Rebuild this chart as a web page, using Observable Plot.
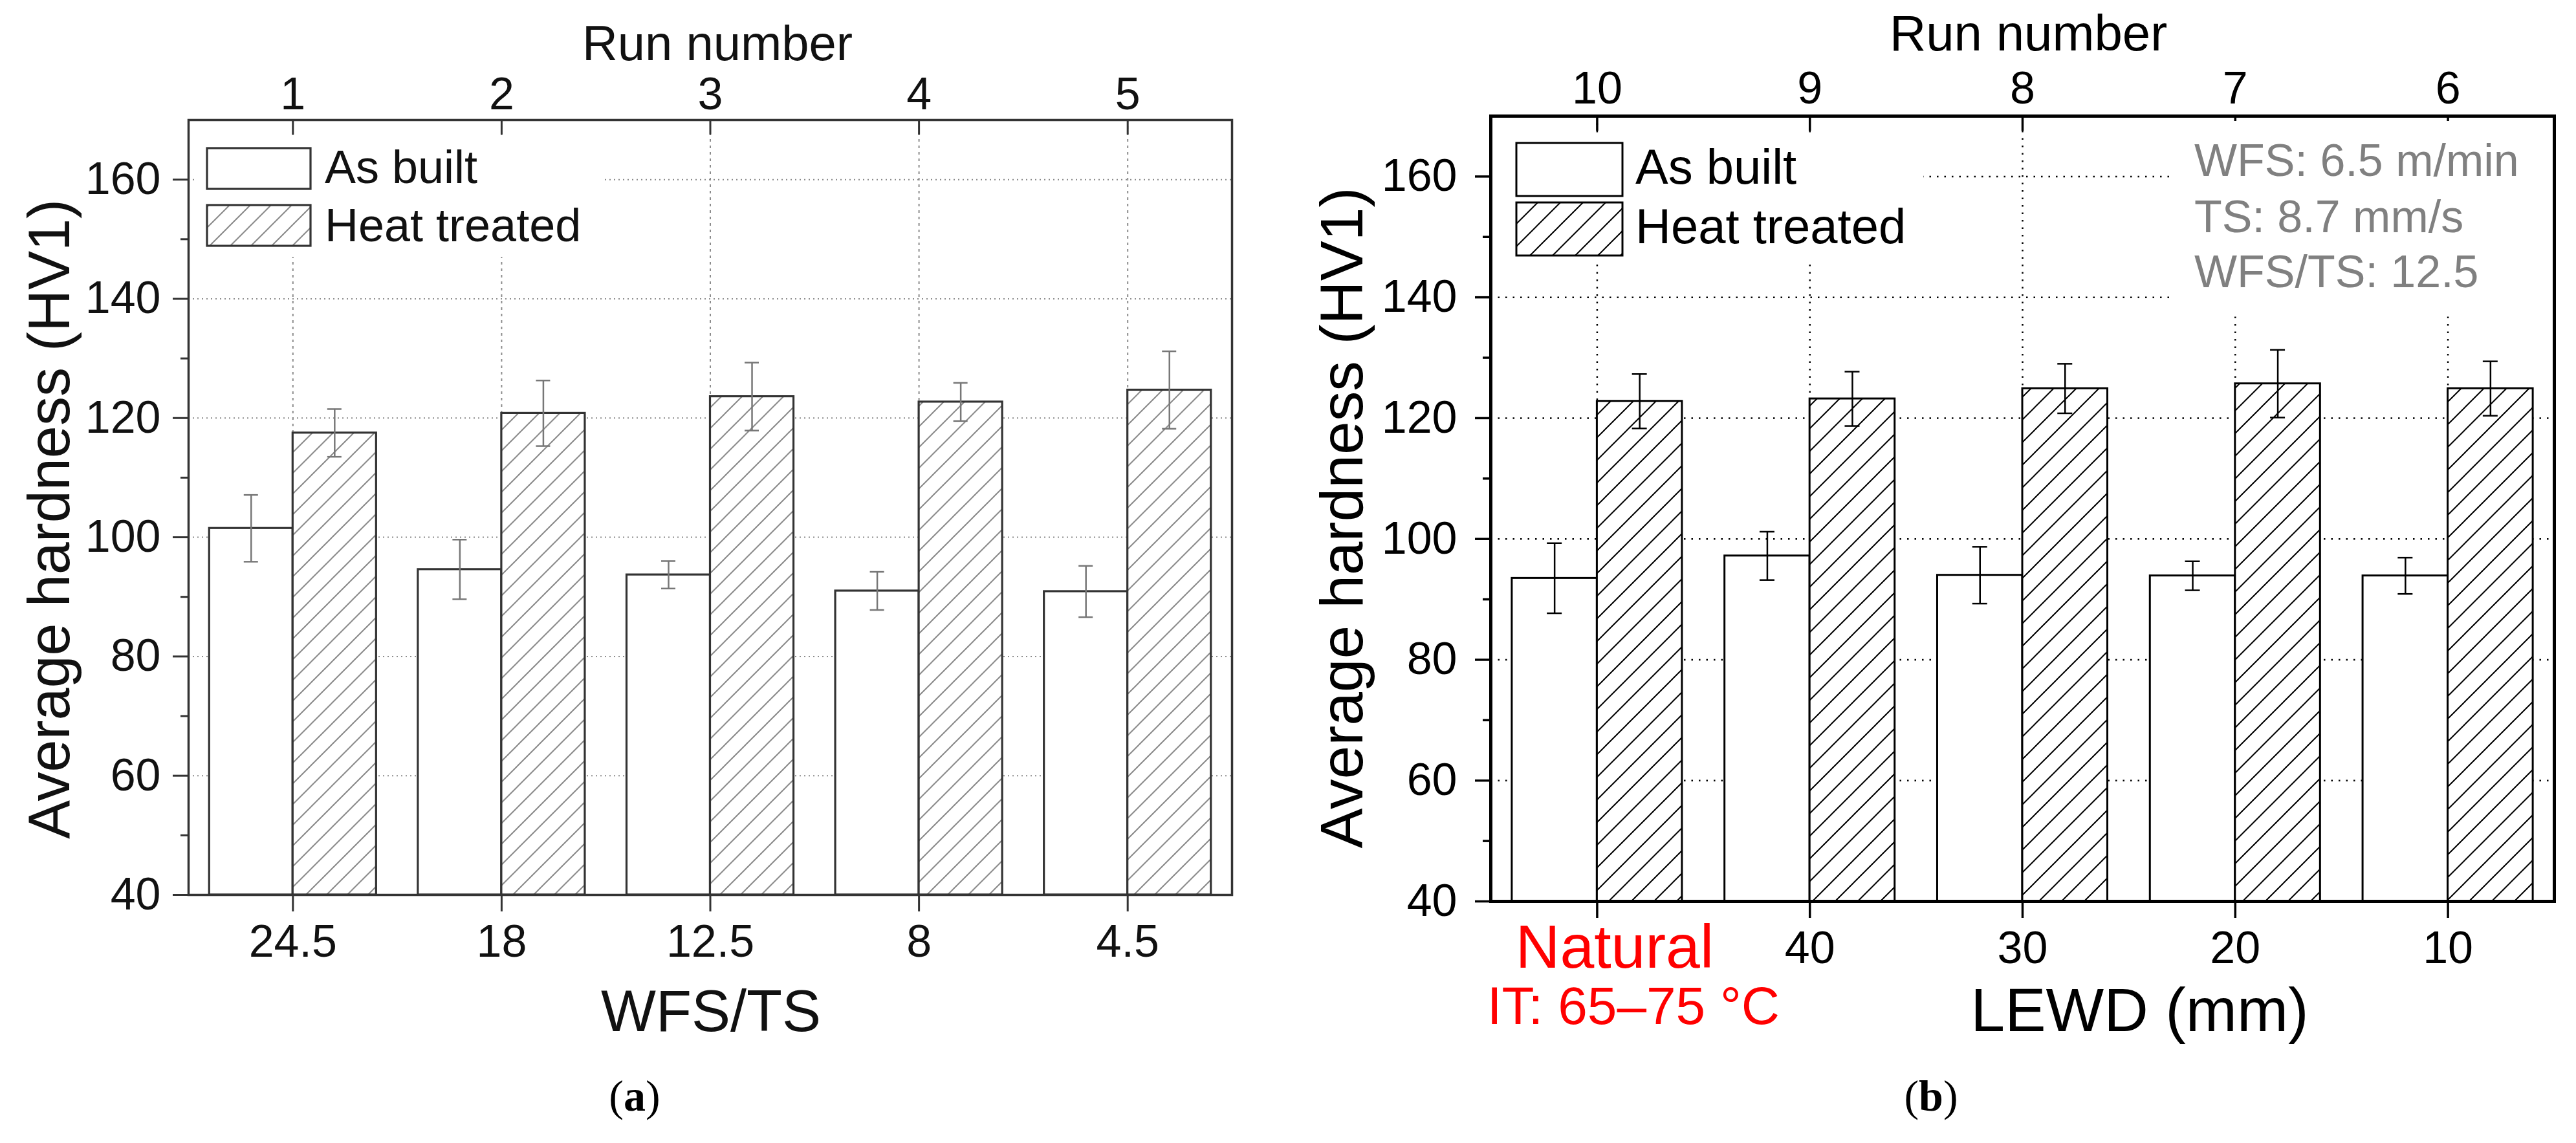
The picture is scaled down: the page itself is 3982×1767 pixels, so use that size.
<!DOCTYPE html>
<html><head><meta charset="utf-8">
<script src="https://cdn.jsdelivr.net/npm/d3@7"></script>
<script src="https://cdn.jsdelivr.net/npm/@observablehq/plot@0.6"></script>
<style>
body{margin:0;background:#fff;}
#fig{position:relative;width:3982px;height:1767px;overflow:hidden;background:#fff;font-family:"Liberation Sans",Arial,sans-serif;}
.panel{position:absolute;top:0;}
.cap{position:absolute;top:1660px;font-family:"Liberation Serif","Times New Roman",serif;font-size:68px;line-height:68px;transform:translateX(-50%);color:#000;}
</style></head><body>
<div id="fig">
<div id="pa" class="panel" style="left:0px"></div>
<div id="pb" class="panel" style="left:1990px"></div>
<div class="cap" style="left:981px">(<b>a</b>)</div>
<div class="cap" style="left:2985px">(<b>b</b>)</div>
</div>
<script>
// ---------- data ----------
const seriesNames = ["As built", "Heat treated"];
const yTitle = "Average hardness (HV1)";
const topTitle = "Run number";

// panel (a)
const runA = ["1", "2", "3", "4", "5"];
const wfsTs = ["24.5", "18", "12.5", "8", "4.5"];
const asBuiltA = [101.5, 94.6, 93.7, 91.0, 90.9];
const asBuiltErrA = [5.6, 5.0, 2.3, 3.2, 4.3];
const heatA = [117.5, 120.8, 123.6, 122.7, 124.7];
const heatErrA = [4.0, 5.5, 5.7, 3.2, 6.5];
const xTitleA = "WFS/TS";

// panel (b)
const runB = ["10", "9", "8", "7", "6"];
const lewd = ["Natural", "40", "30", "20", "10"];
const asBuiltB = [93.5, 97.2, 94.0, 93.9, 93.9];
const asBuiltErrB = [5.8, 4.0, 4.7, 2.4, 3.0];
const heatB = [122.8, 123.2, 124.9, 125.7, 124.9];
const heatErrB = [4.5, 4.5, 4.1, 5.6, 4.5];
const xTitleB = "LEWD (mm)";
const naturalNote = "IT: 65–75 °C";
const paramNote = ["WFS: 6.5 m/min", "TS: 8.7 mm/s", "WFS/TS: 12.5"];

// axis ticks
const yDomain = [40, 170];
const majorTicks = [40, 60, 80, 100, 120, 140, 160];
const minorTicks = [50, 70, 90, 110, 130, 150];
const gridTicks = [60, 80, 100, 120, 140, 160];

const FONT = '"Liberation Sans", Arial, sans-serif';

function buildRows(ab, abErr, ht, htErr) {
  const out = [];
  ab.forEach((v, i) => out.push({i, s: seriesNames[0], v, e: abErr[i]}));
  ht.forEach((v, i) => out.push({i, s: seriesNames[1], v, e: htErr[i]}));
  return out;
}

function makePanel(o) {
  const rows = buildRows(o.ab, o.abErr, o.ht, o.htErr);
  const idx = d3.range(o.bottomLabels.length);
  const barW = 0.4;
  const plotW = o.width - o.ml - o.mr;
  const plotH = o.height - o.mt - o.mb;
  const capHalf = o.capPx / (plotW / idx.length);
  const isAB = d => d.s === seriesNames[0];
  const center = d => d.i + (isAB(d) ? -barW / 2 : barW / 2);
  const hatchId = o.id + "-hatch";

  const marks = [
    Plot.gridY(gridTicks, {stroke: o.gridColor, strokeOpacity: 1, strokeWidth: o.gridWidth, strokeDasharray: o.gridDashY}),
    Plot.gridX(idx, {x: d => d, stroke: o.gridColor, strokeOpacity: 1, strokeWidth: o.gridWidth, strokeDasharray: o.gridDashX}),
    Plot.rectY(rows.filter(isAB), {x1: d => d.i - barW, x2: d => d.i, y1: () => yDomain[0], y2: "v", fill: "white", stroke: o.barStroke, strokeWidth: o.barWidth}),
    Plot.rectY(rows.filter(d => !isAB(d)), {x1: d => d.i, x2: d => d.i + barW, y1: () => yDomain[0], y2: "v", fill: `url(#${hatchId})`, stroke: o.barStroke, strokeWidth: o.barWidth}),
    Plot.ruleX(rows, {x: center, y1: d => d.v - d.e, y2: d => d.v + d.e, stroke: o.errColor, strokeWidth: o.errWidth}),
    Plot.ruleY(rows, {y: d => d.v + d.e, x1: d => center(d) - capHalf, x2: d => center(d) + capHalf, stroke: o.errColor, strokeWidth: o.errWidth}),
    Plot.ruleY(rows, {y: d => d.v - d.e, x1: d => center(d) - capHalf, x2: d => center(d) + capHalf, stroke: o.errColor, strokeWidth: o.errWidth}),
    // inward top ticks
    Plot.tickX(idx, {x: d => d, stroke: o.frameColor, strokeWidth: o.tickWidth, insetBottom: plotH - 23}),
    Plot.frame({stroke: o.frameColor, strokeWidth: o.frameWidth}),
    Plot.axisY(majorTicks, {anchor: "left", tickSize: 24, tickPadding: o.yPad, fontSize: o.tickFont, label: null, stroke: o.frameColor, strokeWidth: o.tickWidth, fill: o.textColor}),
    Plot.axisY(minorTicks, {anchor: "left", tickSize: 12, tickFormat: () => "", label: null, stroke: o.frameColor, strokeWidth: o.tickWidth}),
    Plot.axisX(idx, {anchor: "bottom", tickSize: 26, tickPadding: 20, tickFormat: o.bottomFormat, fontSize: o.tickFont, label: null, stroke: o.frameColor, strokeWidth: o.tickWidth, fill: o.textColor}),
    Plot.axisX(idx, {anchor: "top", tickSize: 0, tickPadding: o.topPad, tickFormat: i => o.topLabels[i], fontSize: o.tickFont, label: null, fill: o.textColor}),
    Plot.text([topTitle], {text: d => d, frameAnchor: "top", dx: o.topTitleDx, dy: o.topTitleDy, lineAnchor: "bottom", fontSize: o.topTitleFont, fill: o.textColor}),
    Plot.text([o.xTitle], {text: d => d, frameAnchor: "bottom", dx: o.xTitleDx, dy: o.xTitleDy, lineAnchor: "bottom", fontSize: o.xTitleFont, fill: o.textColor}),
    Plot.text([yTitle], {text: d => d, frameAnchor: "left", rotate: -90, dx: o.yTitleDx, dy: o.yTitleDy, textAnchor: "middle", lineAnchor: "middle", fontSize: o.yTitleFont, fill: o.textColor}),
    ...(o.extraMarks || [])
  ];

  const svg = Plot.plot({
    width: o.width, height: o.height,
    marginLeft: o.ml, marginRight: o.mr, marginTop: o.mt, marginBottom: o.mb,
    style: {fontFamily: FONT, background: "transparent", overflow: "visible", color: o.textColor},
    x: {type: "linear", domain: [-0.5, idx.length - 0.5]},
    y: {domain: yDomain},
    marks
  });

  // hatch pattern
  const s = o.hatchStep;
  const defs = d3.select(svg).insert("defs", ":first-child");
  const pat = defs.append("pattern").attr("id", hatchId).attr("patternUnits", "userSpaceOnUse")
    .attr("width", s).attr("height", s);
  pat.append("rect").attr("width", s).attr("height", s).attr("fill", "white");
  pat.append("path")
    .attr("d", `M0,${s} L${s},0 M${-s/2},${s/2} L${s/2},${-s/2} M${s/2},${1.5*s} L${1.5*s},${s/2}`)
    .attr("stroke", o.hatchColor).attr("stroke-width", o.hatchWidth).attr("fill", "none");

  // legend overlay
  const g = d3.select(svg).append("g").attr("font-family", FONT).attr("text-anchor", "start");
  const L = o.legend;
  g.append("rect").attr("x", L.box[0]).attr("y", L.box[1]).attr("width", L.box[2]).attr("height", L.box[3]).attr("fill", "white");
  seriesNames.forEach((name, k) => {
    g.append("rect").attr("x", L.sx).attr("y", L.sy[k]).attr("width", L.sw).attr("height", L.sh)
      .attr("fill", k === 0 ? "white" : `url(#${hatchId})`).attr("stroke", o.barStroke).attr("stroke-width", o.barWidth);
    g.append("text").attr("x", L.tx).attr("y", L.ty[k]).attr("font-size", L.font).attr("fill", o.textColor)
      .attr("text-anchor", "start").text(name);
  });
  if (o.note) {
    const N = o.note;
    g.append("rect").attr("x", N.box[0]).attr("y", N.box[1]).attr("width", N.box[2]).attr("height", N.box[3]).attr("fill", "white");
    N.lines.forEach((t, k) => {
      g.append("text").attr("x", N.tx).attr("y", N.ty[k]).attr("font-size", N.font).attr("fill", N.color)
        .attr("text-anchor", "start").text(t);
    });
  }
  return svg;
}

// ---------- panel (a) ----------
const svgA = makePanel({
  id: "pa", width: 1960, height: 1640, ml: 291, mr: 56, mt: 185, mb: 257,
  ab: asBuiltA, abErr: asBuiltErrA, ht: heatA, htErr: heatErrA,
  bottomLabels: wfsTs, topLabels: runA, bottomFormat: i => wfsTs[i],
  xTitle: xTitleA,
  gridColor: "#8c8c8c", gridWidth: 2, gridDashY: "2,5", gridDashX: "4,6",
  barStroke: "#333", barWidth: 3.2, errColor: "#777", errWidth: 2.5, capPx: 11,
  frameColor: "#333", frameWidth: 3.5, tickWidth: 3, textColor: "#111",
  hatchStep: 32, hatchColor: "#8a8a8a", hatchWidth: 2,
  tickFont: 70, yPad: 19, topPad: 17,
  topTitleFont: 76, topTitleDx: 11, topTitleDy: -93,
  xTitleFont: 90, xTitleDx: 1, xTitleDy: 210,
  yTitleFont: 90, yTitleDx: -213, yTitleDy: 18,
  legend: {box: [300, 213, 631, 184], sx: 320, sy: [229, 317], sw: 160, sh: 63, tx: 502, ty: [283, 373], font: 72}
});
document.getElementById("pa").appendChild(svgA);

// ---------- panel (b) ----------
const svgB = makePanel({
  id: "pb", width: 1992, height: 1640, ml: 314, mr: 34, mt: 179, mb: 247,
  ab: asBuiltB, abErr: asBuiltErrB, ht: heatB, htErr: heatErrB,
  bottomLabels: lewd, topLabels: runB, bottomFormat: i => (i === 0 ? "" : lewd[i]),
  xTitle: xTitleB,
  gridColor: "#000", gridWidth: 2.5, gridDashY: "2.5,9", gridDashX: "2.5,9",
  barStroke: "#000", barWidth: 3, errColor: "#000", errWidth: 2.5, capPx: 11.5,
  frameColor: "#000", frameWidth: 5, tickWidth: 3.5, textColor: "#000",
  hatchStep: 35, hatchColor: "#000", hatchWidth: 2,
  tickFont: 70, yPad: 28, topPad: 20,
  topTitleFont: 78, topTitleDx: 9, topTitleDy: -102,
  xTitleFont: 95, xTitleDx: 181, xTitleDy: 200,
  yTitleFont: 93, yTitleDx: -228, yTitleDy: 14,
  legend: {box: [320, 206, 663, 196], sx: 354, sy: [221, 313], sw: 164, sh: 82, tx: 538, ty: [284, 376], font: 76},
  note: {box: [1363, 187, 587, 298], tx: 1402, ty: [272, 359, 444], font: 70, color: "#808080", lines: paramNote},
  extraMarks: [
    Plot.text([0], {x: d => d, text: d => lewd[d], frameAnchor: "bottom", dx: 27, dy: 102, lineAnchor: "bottom", fontSize: 95, fill: "#ff0000"}),
    Plot.text([0], {x: d => d, text: () => naturalNote, frameAnchor: "bottom", dx: 56, dy: 189, lineAnchor: "bottom", fontSize: 82, fill: "#ff0000"})
  ]
});
document.getElementById("pb").appendChild(svgB);
</script>
</body></html>
